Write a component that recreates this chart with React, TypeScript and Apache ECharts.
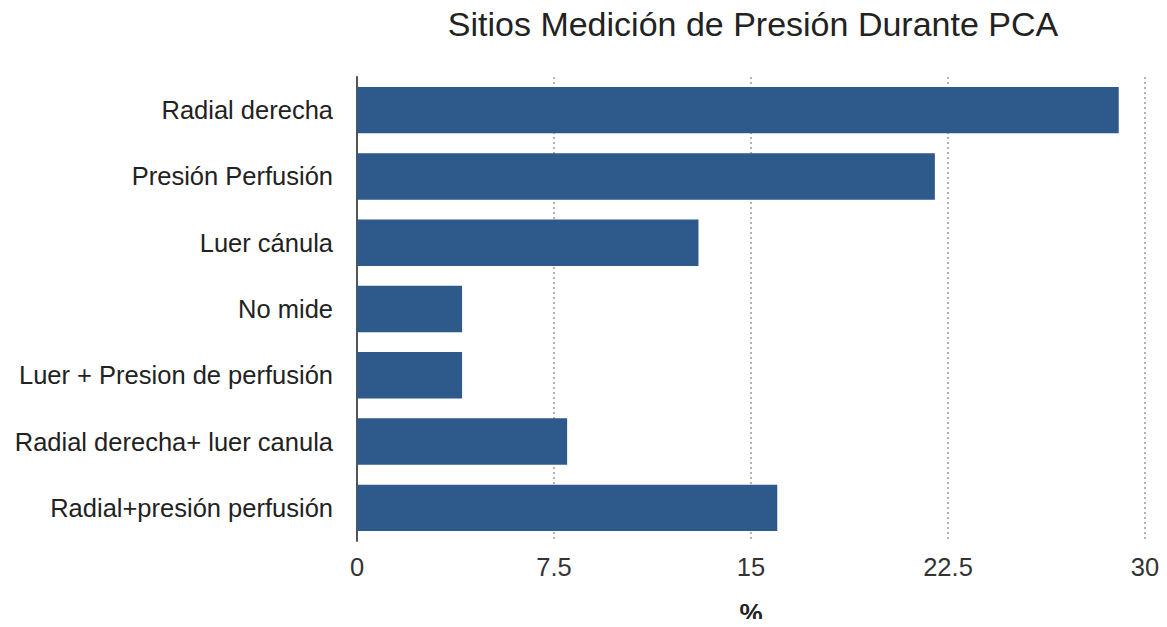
import React, { useEffect, useRef } from "react";
import * as echarts from "echarts";

const categories = [
  "Radial derecha",
  "Presión Perfusión",
  "Luer cánula",
  "No mide",
  "Luer + Presion de perfusión",
  "Radial derecha+ luer canula",
  "Radial+presión perfusión",
];
const values = [29, 22, 13, 4, 4, 8, 16];
const titleText = "Sitios Medición de Presión Durante PCA";
const xAxisName = "%";

export default function App() {
  const ref = useRef<HTMLDivElement>(null);
  useEffect(() => {
    const chart = echarts.init(ref.current!, null, { renderer: "svg" });
    chart.setOption({
      animation: false,
      title: {
        text: titleText,
        left: 748,
        textAlign: "center",
        top: 2,
        textStyle: {
          fontFamily: "Liberation Sans",
          fontWeight: "normal",
          fontSize: 34,
          color: "#222",
        },
      },
      grid: {
        left: 357,
        right: 22,
        top: 77,
        bottom: 86,
        containLabel: false,
        outerBoundsMode: "none",
      },
      xAxis: {
        type: "value",
        min: 0,
        max: 30,
        interval: 7.5,
        name: xAxisName,
        nameLocation: "middle",
        nameGap: 59,
        nameTextStyle: {
          fontFamily: "Liberation Sans",
          fontWeight: "bold",
          fontSize: 26,
          color: "#222",
        },
        axisLine: { show: false },
        axisTick: { show: false },
        axisLabel: {
          fontFamily: "Liberation Sans",
          fontSize: 25.5,
          color: "#333",
          margin: 13,
        },
        splitLine: {
          show: true,
          lineStyle: { type: [2, 3], color: "#9a9a9a", width: 1.5 },
        },
      },
      yAxis: {
        type: "category",
        inverse: true,
        data: categories,
        axisLine: { show: true, lineStyle: { color: "#555", width: 2 } },
        axisTick: { show: false },
        axisLabel: {
          fontFamily: "Liberation Sans",
          fontSize: 25.5,
          color: "#222",
          margin: 24,
        },
      },
      series: [
        {
          type: "bar",
          data: values,
          barCategoryGap: "30%",
          itemStyle: { color: "#2E5A8B" },
        },
      ],
    });
    return () => chart.dispose();
  }, []);
  return <div ref={ref} style={{ width: 1167, height: 627, margin: -8 }} />;
}
